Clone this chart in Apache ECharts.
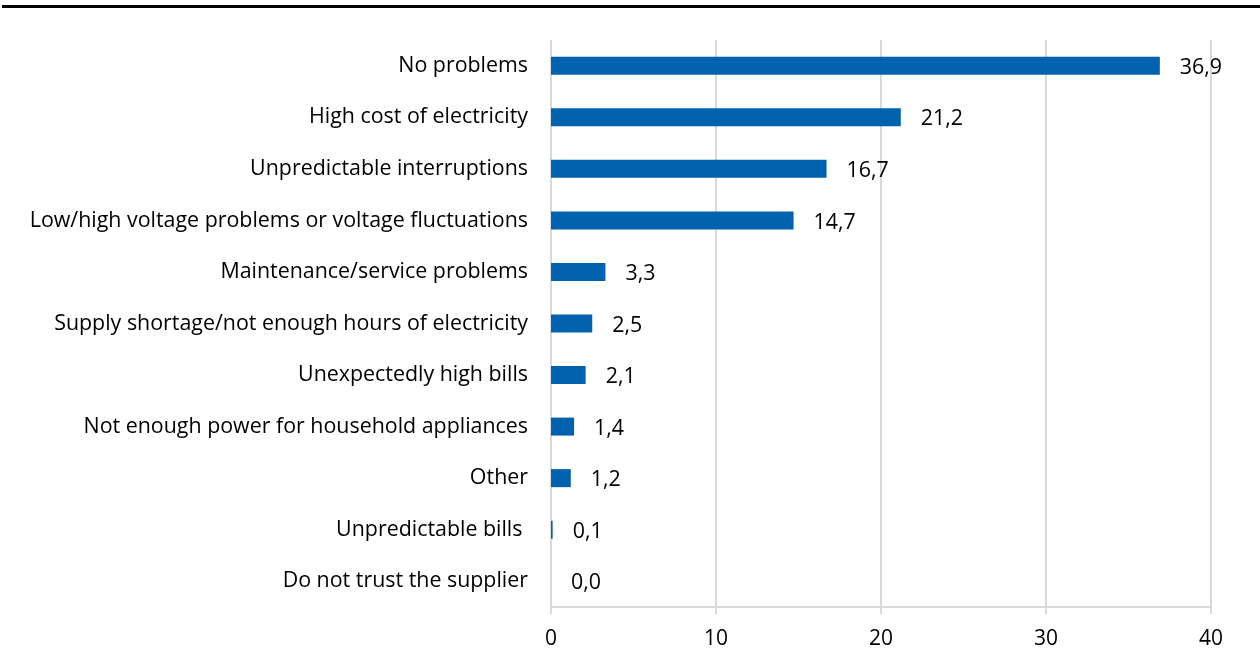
<!DOCTYPE html>
<html>
<head>
<meta charset="utf-8">
<script src="https://cdn.jsdelivr.net/npm/echarts@6/dist/echarts.min.js"></script>
<style>
html,body{margin:0;padding:0;background:#fff;}
#chart{width:1260px;height:666px;}
</style>
</head>
<body>
<div id="chart"></div>
<script>
const categories = [
  "No problems",
  "High cost of electricity",
  "Unpredictable interruptions",
  "Low/high voltage problems or voltage fluctuations",
  "Maintenance/service problems",
  "Supply shortage/not enough hours of electricity",
  "Unexpectedly high bills",
  "Not enough power for household appliances",
  "Other",
  "Unpredictable bills ",
  "Do not trust the supplier"
];
const values = [36.9, 21.2, 16.7, 14.7, 3.3, 2.5, 2.1, 1.4, 1.2, 0.1, 0.0];
const xTicks = [0, 10, 20, 30, 40];

const chart = echarts.init(document.getElementById('chart'), null, {renderer: 'canvas'});
const font = '"Open Sans", "Noto Sans", sans-serif';
chart.setOption({
  animation: false,
  backgroundColor: '#ffffff',
  textStyle: {fontFamily: font},
  graphic: [{
    type: 'rect',
    shape: {x: 2, y: 5, width: 1258, height: 3},
    style: {fill: '#000000'}
  }],
  grid: {left: 551, right: 49, top: 40, bottom: 59, containLabel: false},
  xAxis: {
    type: 'value',
    min: xTicks[0],
    max: xTicks[xTicks.length - 1],
    interval: 10,
    axisLine: {show: true, lineStyle: {color: '#d9d9d9', width: 2}},
    axisTick: {show: true, length: 7, lineStyle: {color: '#d9d9d9', width: 2}},
    splitLine: {show: true, lineStyle: {color: '#d9d9d9', width: 2}},
    axisLabel: {color: '#000', fontSize: 21, fontFamily: font, margin: 22}
  },
  yAxis: {
    type: 'category',
    data: categories,
    inverse: true,
    axisLine: {show: false},
    axisTick: {show: false},
    axisLabel: {color: '#000', fontSize: 21.4, fontFamily: font, margin: 23}
  },
  series: [{
    type: 'bar',
    data: values,
    barWidth: 18,
    itemStyle: {color: '#0062AF'},
    label: {
      show: true,
      position: 'right',
      distance: 20,
      color: '#000',
      fontSize: 21.4,
      fontFamily: font,
      offset: [0, 2],
      formatter: p => p.value.toFixed(1).replace('.', ',')
    }
  }]
});
</script>
</body>
</html>
